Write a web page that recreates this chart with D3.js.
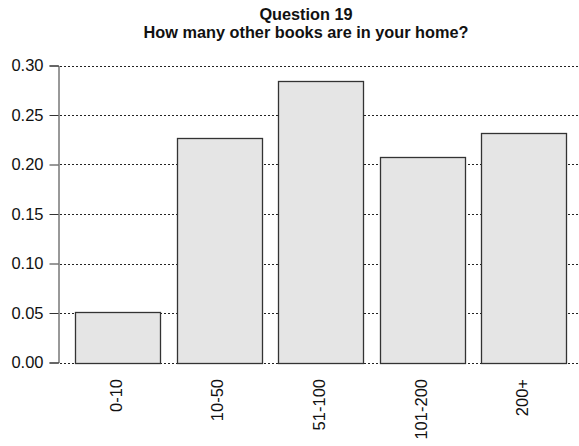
<!DOCTYPE html>
<html><head><meta charset="utf-8">
<script src="https://cdn.jsdelivr.net/npm/d3@7"></script>
<style>body{margin:0;background:#fff}</style>
</head><body>
<svg id="c" width="579" height="446"></svg>
<script>
const categories = ["0-10","10-50","51-100","101-200","200+"];
const values = [0.051, 0.227, 0.284, 0.208, 0.232];
const yTicks = [0, 0.05, 0.10, 0.15, 0.20, 0.25, 0.30];
const titleLines = ["Question 19", "How many other books are in your home?"];

const svg = d3.select("#c");
const font = "'Liberation Sans', Arial, sans-serif";
const y = d3.scaleLinear().domain([0, 0.30]).range([362.5, 65.5]);
const x = d3.scaleBand().domain(categories).range([63, 579]).paddingInner(0.16).paddingOuter(0.12);

// title
svg.selectAll("text.title").data(titleLines).enter().append("text")
  .attr("x", 306).attr("y", (d,i)=>19.5 + i*18.5)
  .attr("text-anchor","middle").attr("font-family",font).attr("font-weight","bold")
  .attr("font-size",16.3).attr("fill","#111").text(d=>d);

// gridlines
svg.append("g").selectAll("line").data(yTicks).enter().append("line")
  .attr("x1",60).attr("x2",579)
  .attr("y1",d=>Math.round(y(d))+0.5).attr("y2",d=>Math.round(y(d))+0.5)
  .attr("stroke","#222").attr("stroke-width",1).attr("stroke-dasharray","2,2");

// bars
svg.append("g").selectAll("rect").data(values).enter().append("rect")
  .attr("x",(d,i)=>Math.round(x(categories[i]))+0.5)
  .attr("y",d=>Math.round(y(d))+0.5)
  .attr("width",Math.round(x.bandwidth()))
  .attr("height",d=>Math.round(y(0))-Math.round(y(d)))
  .attr("fill","#e5e5e5").attr("stroke","#333").attr("stroke-width",1.3);

// y axis
const yAxis = d3.axisLeft(y).tickValues(yTicks).tickFormat(d3.format(".2f")).tickSizeOuter(0).tickSize(9).tickPadding(6);
const gy = svg.append("g").attr("transform","translate(58.5,0)").call(yAxis);
gy.select(".domain").attr("stroke","#333");
gy.selectAll(".tick line").attr("stroke","#333");
gy.selectAll("text").attr("font-family",font).attr("font-size",16.5).attr("fill","#111");

// x labels
svg.append("g").selectAll("text").data(categories).enter().append("text")
  .attr("transform",d=>`translate(${x(d)+x.bandwidth()/2+4},379) rotate(-90)`)
  .attr("text-anchor","end").attr("font-family",font).attr("font-size",16.5).attr("fill","#111")
  .text(d=>d);
</script>
</body></html>
